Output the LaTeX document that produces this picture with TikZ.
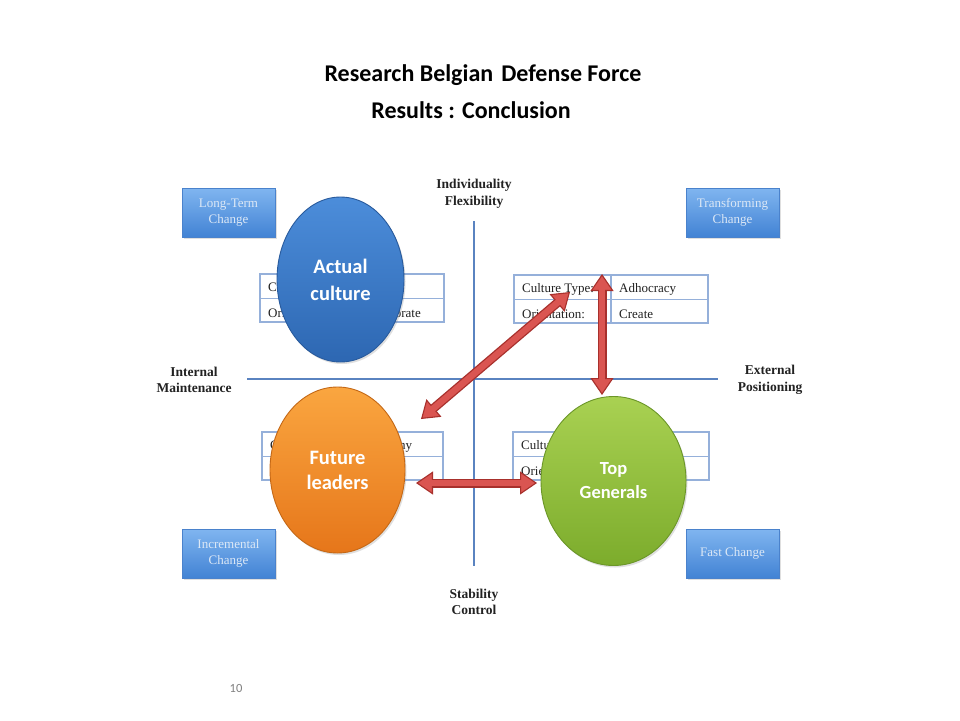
\documentclass[tikz,border=0pt]{standalone}
\usepackage{fontspec}
\setmainfont{Liberation Serif}
\newfontfamily\calib{Carlito}
\usetikzlibrary{shapes.geometric,arrows.meta,shadows}
\definecolor{axisblue}{HTML}{5A83C0}
\definecolor{tblline}{HTML}{95B0DA}
\definecolor{boxtop}{HTML}{80B5F0}
\definecolor{boxbot}{HTML}{4283D4}
\definecolor{boxedge}{HTML}{4A82CC}
\definecolor{boxtext}{HTML}{DCE8F6}
\definecolor{bluetop}{HTML}{4C8DDA}
\definecolor{bluebot}{HTML}{2D67B2}
\definecolor{blueedge}{HTML}{285A9C}
\definecolor{orgtop}{HTML}{FAA640}
\definecolor{orgbot}{HTML}{E6761A}
\definecolor{orgedge}{HTML}{C46816}
\definecolor{grntop}{HTML}{A9D152}
\definecolor{grnbot}{HTML}{7CAC2C}
\definecolor{grnedge}{HTML}{6B9628}
\definecolor{arrowdark}{HTML}{A8302C}
\definecolor{arrowfill}{HTML}{DA5551}
\definecolor{txtgray}{HTML}{222222}
\tikzset{
  axisline/.style={draw=axisblue, line width=1.6pt},
  axislabel/.style={font=\fontsize{13.5}{16.5}\selectfont\bfseries, text=txtgray, align=center, inner sep=0pt},
  changebox/.style={rectangle, draw=boxedge, line width=0.8pt, top color=boxtop, bottom color=boxbot,
     minimum width=93pt, minimum height=49pt, inner sep=0pt, align=center, text=boxtext,
     font=\fontsize{13}{15.5}\selectfont, drop shadow={opacity=0.25, shadow xshift=1.5pt, shadow yshift=-1.5pt}},
  tblgrid/.style={draw=tblline, line width=1.1pt},
  celltext/.style={anchor=west, inner sep=0pt, text=txtgray, font=\fontsize{13}{15}\selectfont},
  blob/.style={ellipse, inner sep=0pt, line width=0.9pt, align=center, text=white,
     drop shadow={opacity=0.25, shadow xshift=1.5pt, shadow yshift=-2pt}},
  arrowouter/.style={line width=9pt, draw=arrowdark,
     {Triangle[width=23pt,length=17pt,fill=arrowfill,line width=1.1pt]}-{Triangle[width=23pt,length=17pt,fill=arrowfill,line width=1.1pt]}},
  arrowinner/.style={line width=6.4pt, draw=arrowfill, shorten <=13pt, shorten >=13pt},
}
\begin{document}
\begin{tikzpicture}[x=1pt,y=-1pt]
\useasboundingbox[fill=white] (0,0) rectangle (960,720);

% title
\node[font=\calib\fontsize{24}{28}\selectfont\bfseries] (t1) at (483,75) {Research Belgian\,\,Defense Force};
\node[font=\calib\fontsize{24}{28}\selectfont\bfseries] (t2) at (471,110) {Results : Conclusion};

% axes
\coordinate (vtop) at (474,221);
\coordinate (vbot) at (474,566);
\coordinate (hl) at (247,379);
\coordinate (hr) at (718,379);
\draw[axisline] (vtop) -- (vbot);
\draw[axisline] (hl) -- (hr);

% tables (grid)
\foreach \x/\y/\m/\w in {260/274/352/444, 514/275/611/708, 262/432/352/443, 513/432/610/709}{
  \draw[tblgrid] (\x,\y) rectangle (\w,\y+48);
  \draw[tblgrid] (\x,\y+24.5) -- (\w,\y+24.5);
  \draw[tblgrid] (\m,\y) -- (\m,\y+48);
}
% table texts (those left visible by the ellipses)
\node[celltext] (tla) at (268,288.5) {Culture Type:};
\node[celltext] (tlc) at (268,313) {Orientation:};
\node[celltext] (tld) at (360,313) {Collaborate};
\node[celltext] (tra) at (522,289.5) {Culture Type:};
\node[celltext] (trb) at (619,289.5) {Adhocracy};
\node[celltext] (trc2) at (522,314) {Orientation:};
\node[celltext] (trd) at (619,314) {Create};
\node[celltext] (bla) at (270,446.5) {Culture Type:};
\node[celltext] (blb) at (360,446.5) {Hierarchy};
\node[celltext] (blc) at (270,471) {Orientation:};
\node[celltext] (bra) at (521,446.5) {Culture Type:};
\node[celltext] (brc) at (521,471) {Orientation:};

% change boxes
\node[changebox] (ltc) at (228.5,212.5) {Long-Term\\Change};
\node[changebox] (trc) at (732.5,212.5) {Transforming\\Change};
\node[changebox] (inc) at (228.5,553.5) {Incremental\\Change};
\node[changebox] (fc) at (732.5,553.5) {Fast Change};

% axis labels
\node[axislabel] (lt) at (474,194) {Individuality\\Flexibility};
\node[axislabel] (lb) at (474,602) {Stability\\Control};
\node[axislabel] (ll) at (194,380) {Internal\\Maintenance};
\node[axislabel] (lr) at (770,380) {External\\Positioning};

% ellipses
\node[blob, draw=blueedge, top color=bluetop, bottom color=bluebot, minimum width=127pt, minimum height=165pt,
      font=\calib\fontsize{20.5}{27}\selectfont\bfseries] (ac) at (340.5,279.5) {Actual\\culture};
\node[blob, draw=orgedge, top color=orgtop, bottom color=orgbot, minimum width=135pt, minimum height=166pt,
      font=\calib\fontsize{20.5}{25}\selectfont\bfseries] (fl) at (337.5,470) {Future\\leaders};
\node[blob, draw=grnedge, top color=grntop, bottom color=grnbot, minimum width=145pt, minimum height=169pt,
      font=\calib\fontsize{18.5}{24}\selectfont\bfseries] (tg) at (613.5,481) {Top\\Generals};

% arrows
\coordinate (d1) at (421,419);
\coordinate (d2) at (570,292);
\coordinate (v1) at (602,274);
\coordinate (v2) at (602,395);
\coordinate (h1) at (416,483);
\coordinate (h2) at (537,483);
\foreach \a/\b in {d1/d2, v1/v2, h1/h2}{
  \draw[arrowouter] (\a) -- (\b);
  \draw[arrowinner] (\a) -- (\b);
}

% page number
\node[font=\calib\fontsize{12.5}{14}\selectfont, text=gray] (pn) at (236,688) {10};
\end{tikzpicture}
\end{document}
